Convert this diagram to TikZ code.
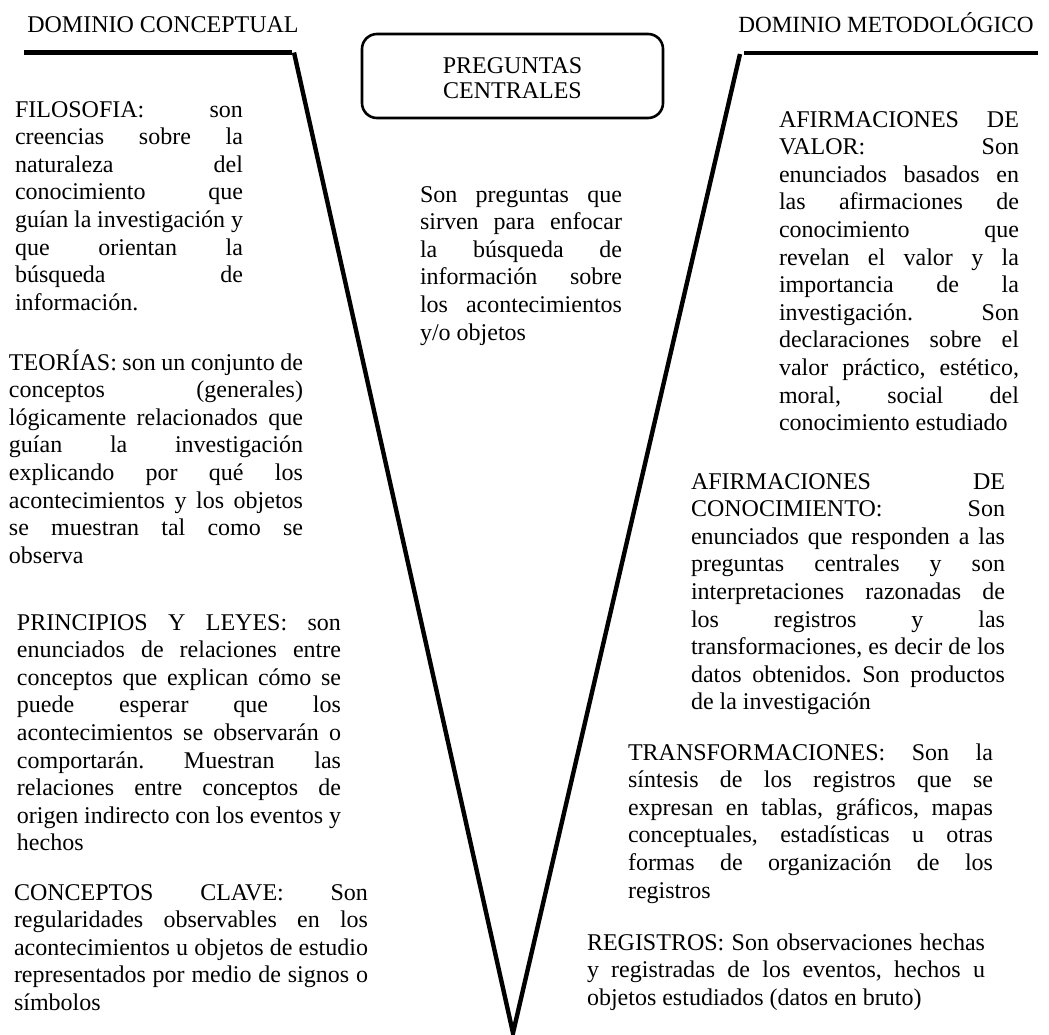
\documentclass[tikz,border=0pt]{standalone}
\usepackage{fontspec}
\setmainfont{Liberation Serif}
\frenchspacing

% one justified line of a block
\newcommand{\jline}[1]{\makebox[\linewidth][s]{#1}\par}
% a block of text, first baseline at the node's base
\newcommand{\txtblock}[2]{\parbox[t]{#1}{\fontsize{12}{13.8}\selectfont #2}}

\tikzset{
  txt/.style={anchor=base west, inner sep=0pt, outer sep=0pt},
  heading/.style={anchor=base, inner sep=0pt, font=\fontsize{12}{14}\selectfont},
  rule/.style={line width=2.1pt},
  vee/.style={line width=2.2pt, line join=miter},
  qbox/.style={line width=1.3pt, rounded corners=7.5pt},
}

\begin{document}
\begin{tikzpicture}[x=0.5pt, y=-0.5pt]
\useasboundingbox (0,0) rectangle (1049,1034);

% headings and the two arms of the V
\node[heading] (hcon) at (163,32) {DOMINIO CONCEPTUAL};
\node[heading, font=\fontsize{11.6}{14}\selectfont] (hmet) at (886,32) {DOMINIO METODOLÓGICO};

\coordinate (lstart) at (24,52.5);
\coordinate (ltop) at (294,52.5);
\coordinate (apex) at (513,1033);
\coordinate (rtop) at (740,54);
\coordinate (rend) at (1038,53);
\draw[rule] (lstart) -- ([xshift=-1]ltop);
\draw[rule] ([xshift=2]rtop |- rend) -- (rend);
\draw[vee] (ltop) -- (apex) -- (rtop);

% central questions box
\draw[qbox] (362,34) rectangle (663,118);
\node[anchor=base, inner sep=0pt] (q) at (512.5,73)
  {\parbox[t]{150pt}{\centering\fontsize{12}{12.5}\selectfont PREGUNTAS\\CENTRALES}};

\node[txt] (qtext) at (420,202) {\txtblock{101pt}{%
\jline{Son preguntas que}
\jline{sirven para enfocar}
\jline{la búsqueda de}
\jline{información sobre}
\jline{los acontecimientos}
y/o objetos}};

% conceptual side
\node[txt] (filo) at (15,117) {\txtblock{114pt}{%
\jline{FILOSOFIA: son}
\jline{creencias sobre la}
\jline{naturaleza del}
\jline{conocimiento que}
\jline{guían la investigación y}
\jline{que orientan la}
\jline{búsqueda de}
información.}};

\node[txt] (teor) at (9,370) {\txtblock{147pt}{%
\jline{TEORÍAS: son un conjunto de}
\jline{conceptos (generales)}
\jline{lógicamente relacionados que}
\jline{guían la investigación}
\jline{explicando por qué los}
\jline{acontecimientos y los objetos}
\jline{se muestran tal como se}
observa}};

\node[txt] (prin) at (17,630) {\txtblock{162pt}{%
\jline{PRINCIPIOS Y LEYES: son}
\jline{enunciados de relaciones entre}
\jline{conceptos que explican cómo se}
\jline{puede esperar que los}
\jline{acontecimientos se observarán o}
\jline{comportarán. Muestran las}
\jline{relaciones entre conceptos de}
\jline{origen indirecto con los eventos y}
hechos}};

\node[txt] (conc) at (14,900) {\txtblock{177pt}{%
\jline{CONCEPTOS CLAVE: Son}
\jline{regularidades observables en los}
\jline{acontecimientos u objetos de estudio}
\jline{representados por medio de signos o}
símbolos}};

% methodological side
\node[txt] (valor) at (779,127) {\txtblock{120pt}{%
\jline{AFIRMACIONES DE}
\jline{VALOR: Son}
\jline{enunciados basados en}
\jline{las afirmaciones de}
\jline{conocimiento que}
\jline{revelan el valor y la}
\jline{importancia de la}
\jline{investigación. Son}
\jline{declaraciones sobre el}
\jline{valor práctico, estético,}
\jline{moral, social del}
conocimiento estudiado}};

\node[txt] (conoc) at (691,489) {\txtblock{157pt}{%
\jline{AFIRMACIONES DE}
\jline{CONOCIMIENTO: Son}
\jline{enunciados que responden a las}
\jline{preguntas centrales y son}
\jline{interpretaciones razonadas de}
\jline{los registros y las}
\jline{transformaciones, es decir de los}
\jline{datos obtenidos. Son productos}
de la investigación}};

\node[txt] (transf) at (628,760) {\txtblock{182.5pt}{%
\jline{TRANSFORMACIONES: Son la}
\jline{síntesis de los registros que se}
\jline{expresan en tablas, gráficos, mapas}
\jline{conceptuales, estadísticas u otras}
\jline{formas de organización de los}
registros}};

\node[txt] (regis) at (587,950) {\txtblock{199pt}{%
\jline{REGISTROS: Son observaciones hechas}
\jline{y registradas de los eventos, hechos u}
objetos estudiados (datos en bruto)}};

\end{tikzpicture}
\end{document}
